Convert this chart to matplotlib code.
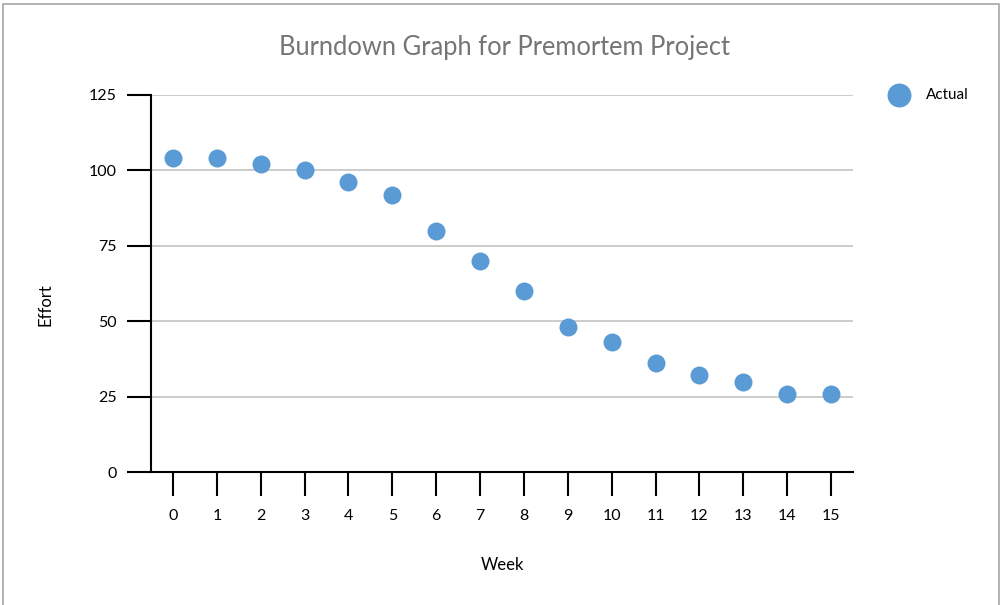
import matplotlib
matplotlib.use('Agg')
import matplotlib.pyplot as plt
from matplotlib.patches import Rectangle

weeks = list(range(16))
effort = [104, 104, 102, 100, 96, 92, 80, 70, 60, 48, 43, 36, 32, 30, 26, 26]
y_ticks = [0, 25, 50, 75, 100, 125]

blue = '#5B9BD5'
plt.rcParams['font.family'] = ['Lato', 'DejaVu Sans']

fig = plt.figure(figsize=(10.01, 6.05), dpi=100)
ax = fig.add_axes([151 / 1001, 1 - 472 / 605, (853 - 151) / 1001, (472 - 95) / 605])

# рамка вокруг всего рисунка (снизу обрезана)
fig.patches.append(Rectangle((3 / 1001, -0.05), 996 / 1001, 1.05 - 4 / 605,
                             transform=fig.transFigure, fill=False,
                             edgecolor='#A6A6A6', linewidth=1.2))

ax.scatter(weeks, effort, s=168, color=blue, zorder=3, label='Actual', linewidths=0)

ax.set_xlim(-0.5, 15.5)
ax.set_ylim(0, 125)
ax.set_xticks(weeks)
ax.set_yticks(y_ticks)
for v in y_ticks[1:]:
    ax.axhline(v, color='#C8C8C8', linewidth=1.3, zorder=1)

for s in ['top', 'right']:
    ax.spines[s].set_visible(False)
ax.spines['left'].set_linewidth(1.5)
ax.spines['bottom'].set_linewidth(1.5)
ax.tick_params(axis='both', length=17.5, width=1.5, labelsize=11.5)
ax.tick_params(axis='y', pad=7)
ax.tick_params(axis='x', pad=9)

fig.text(502 / 1001, 1 - 565 / 605, 'Week', ha='center', va='center', fontsize=12)
fig.text(45 / 1001, 1 - 305 / 605, 'Effort', ha='center', va='center',
         fontsize=12, rotation=90)
fig.text(504 / 1001, 1 - 48 / 605, 'Burndown Graph for Premortem Project',
         ha='center', va='center', fontsize=18.4, color='#757575')

ax.legend(loc='center left', bbox_to_anchor=(876 / 1001, 1 - 95 / 605),
          bbox_transform=fig.transFigure, frameon=False, markerscale=1.33,
          fontsize=11, handletextpad=0.75, borderpad=0)

fig.savefig('out.png', dpi=100)
